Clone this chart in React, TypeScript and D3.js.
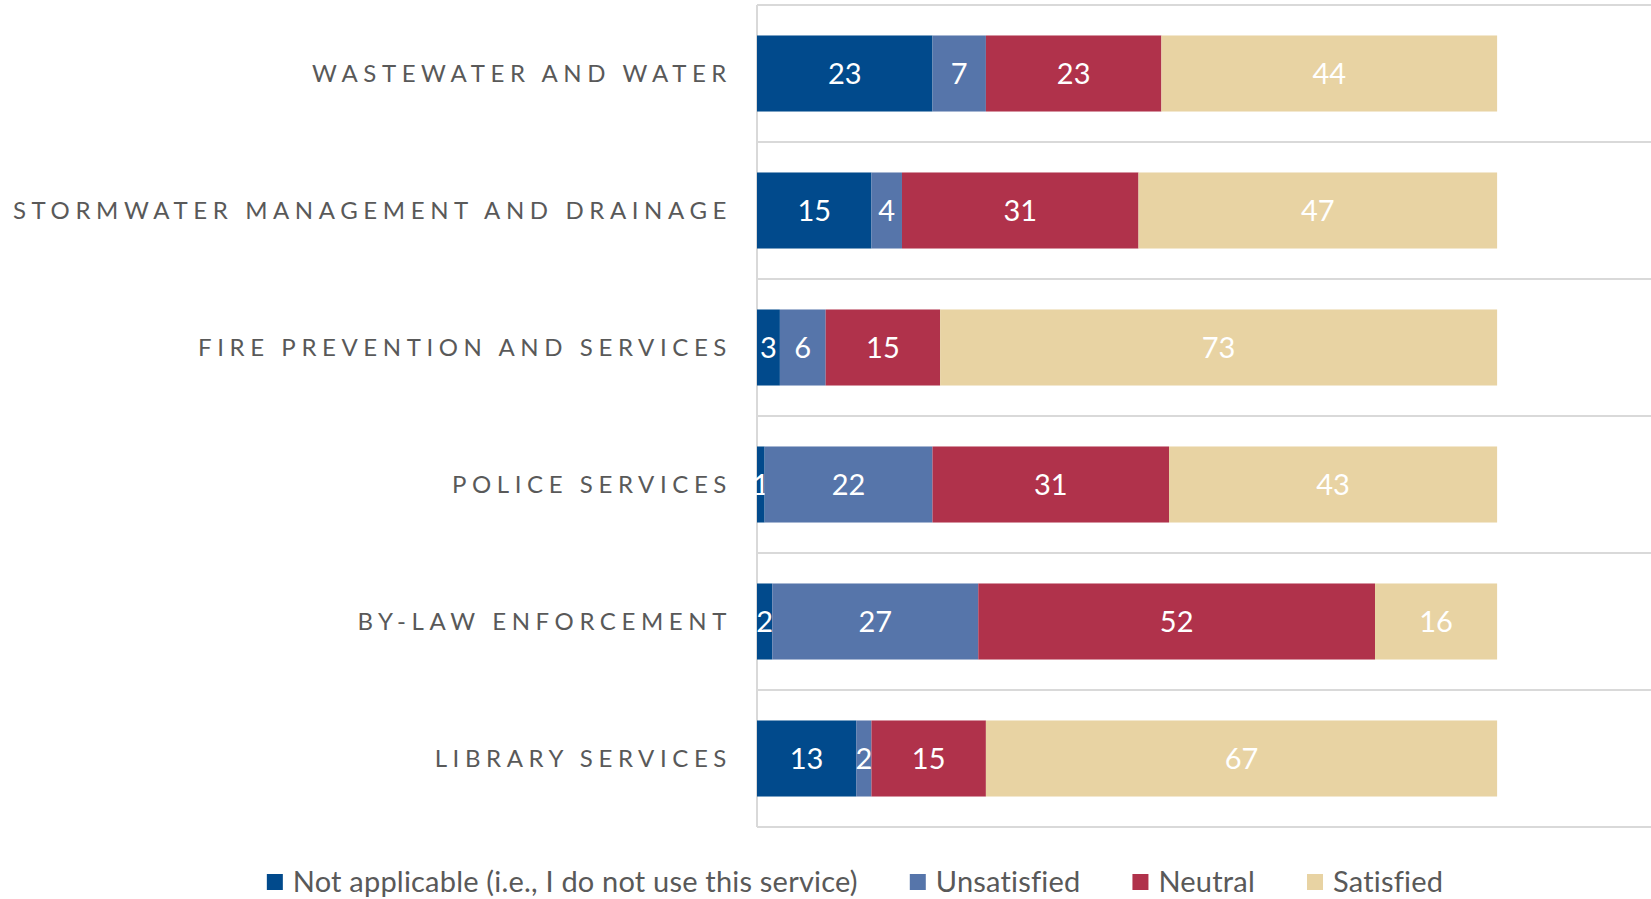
import { useEffect, useRef } from 'react';
import * as d3 from 'd3';

const WIDTH = 1651;
const HEIGHT = 899;
const FONT = 'Lato, "Open Sans", sans-serif';

const categories = [
  'WASTEWATER AND WATER',
  'STORMWATER MANAGEMENT AND DRAINAGE',
  'FIRE PREVENTION AND SERVICES',
  'POLICE SERVICES',
  'BY-LAW ENFORCEMENT',
  'LIBRARY SERVICES',
];

const seriesNames = [
  'Not applicable (i.e., I do not use this service)',
  'Unsatisfied',
  'Neutral',
  'Satisfied',
];
const seriesColors = ['#014A8C', '#5675AA', '#B0324B', '#E8D3A3'];

const notApplicable = [23, 15, 3, 1, 2, 13];
const unsatisfied = [7, 4, 6, 22, 27, 2];
const neutral = [23, 31, 15, 31, 52, 15];
const satisfied = [44, 47, 73, 43, 16, 67];

const seriesValues = [notApplicable, unsatisfied, neutral, satisfied];

const margin = { top: 5, left: 757, bottom: 72 };

function draw(svgEl: SVGSVGElement) {
  const svg = d3.select(svgEl);
  svg.selectAll('*').remove();

  const x = d3.scaleLinear().domain([0, 100]).range([margin.left, 1520]);
  const y = d3
    .scaleBand<string>()
    .domain(categories)
    .range([margin.top, HEIGHT - margin.bottom])
    .paddingInner(0.445)
    .paddingOuter(0.2225);

  const step = y.step();
  const plotTop = margin.top;
  const plotBottom = HEIGHT - margin.bottom;

  // gridlines at band boundaries
  const grid = svg.append('g');
  d3.range(categories.length + 1).forEach((i) => {
    grid
      .append('line')
      .attr('x1', margin.left)
      .attr('x2', WIDTH)
      .attr('y1', plotTop + i * step)
      .attr('y2', plotTop + i * step)
      .attr('stroke', '#D9D9D9')
      .attr('stroke-width', 2);
  });
  grid
    .append('line')
    .attr('x1', margin.left)
    .attr('x2', margin.left)
    .attr('y1', plotTop)
    .attr('y2', plotBottom)
    .attr('stroke', '#D9D9D9')
    .attr('stroke-width', 2);

  // stacked data
  const rows = categories.map((c, i) => {
    const r: Record<string, number | string> = { category: c };
    seriesNames.forEach((s, k) => (r[s] = seriesValues[k][i]));
    return r;
  });
  const stacked = d3.stack<Record<string, number | string>>().keys(seriesNames)(rows as any);

  const layers = svg
    .append('g')
    .selectAll('g')
    .data(stacked)
    .join('g')
    .attr('fill', (_, i) => seriesColors[i]);

  layers
    .selectAll('rect')
    .data((d) => d)
    .join('rect')
    .attr('x', (d) => x(d[0]))
    .attr('y', (d) => y(d.data.category as string)!)
    .attr('width', (d) => x(d[1]) - x(d[0]))
    .attr('height', y.bandwidth());

  layers
    .selectAll('text')
    .data((d) => d)
    .join('text')
    .attr('x', (d) => (x(d[0]) + x(d[1])) / 2)
    .attr('y', (d) => y(d.data.category as string)! + y.bandwidth() / 2)
    .attr('dy', '0.36em')
    .attr('text-anchor', 'middle')
    .attr('fill', '#fff')
    .attr('font-family', FONT)
    .attr('font-size', 29)
    .text((d) => String(d[1] - d[0]));

  // category labels
  svg
    .append('g')
    .selectAll('text')
    .data(categories)
    .join('text')
    .attr('x', margin.left - 25)
    .attr('y', (d) => y(d)! + y.bandwidth() / 2)
    .attr('dy', '0.36em')
    .attr('text-anchor', 'end')
    .attr('fill', '#595959')
    .attr('font-family', FONT)
    .attr('font-size', 24)
    .attr('letter-spacing', 5.6)
    .text((d) => d);

  // legend
  const legend = svg.append('g').attr('transform', `translate(0,${HEIGHT - 17})`);
  const items = legend
    .selectAll('g')
    .data(seriesNames)
    .join('g');
  items
    .append('rect')
    .attr('x', 0)
    .attr('y', -8)
    .attr('width', 16)
    .attr('height', 16)
    .attr('fill', (_, i) => seriesColors[i]);
  items
    .append('text')
    .attr('x', 26)
    .attr('dy', '0.36em')
    .attr('fill', '#595959')
    .attr('font-family', FONT)
    .attr('font-size', 29)
    .attr('letter-spacing', 0.2)
    .text((d) => d);

  const widths: number[] = [];
  items.each(function () {
    const t = d3.select(this).select<SVGTextElement>('text').node()!;
    widths.push(26 + t.getComputedTextLength());
  });
  const gap = 52;
  const total = d3.sum(widths) + gap * (widths.length - 1);
  let cx = 855 - total / 2;
  items.attr('transform', (_, i) => {
    const pos = cx;
    cx += widths[i] + gap;
    return `translate(${pos},0)`;
  });
}

export default function App() {
  const svgRef = useRef<SVGSVGElement>(null);

  useEffect(() => {
    if (!svgRef.current) return;
    draw(svgRef.current);
  }, []);

  return (
    <svg
      ref={svgRef}
      width={WIDTH}
      height={HEIGHT}
      style={{ position: 'absolute', left: 0, top: 0, display: 'block', background: '#fff' }}
    />
  );
}
